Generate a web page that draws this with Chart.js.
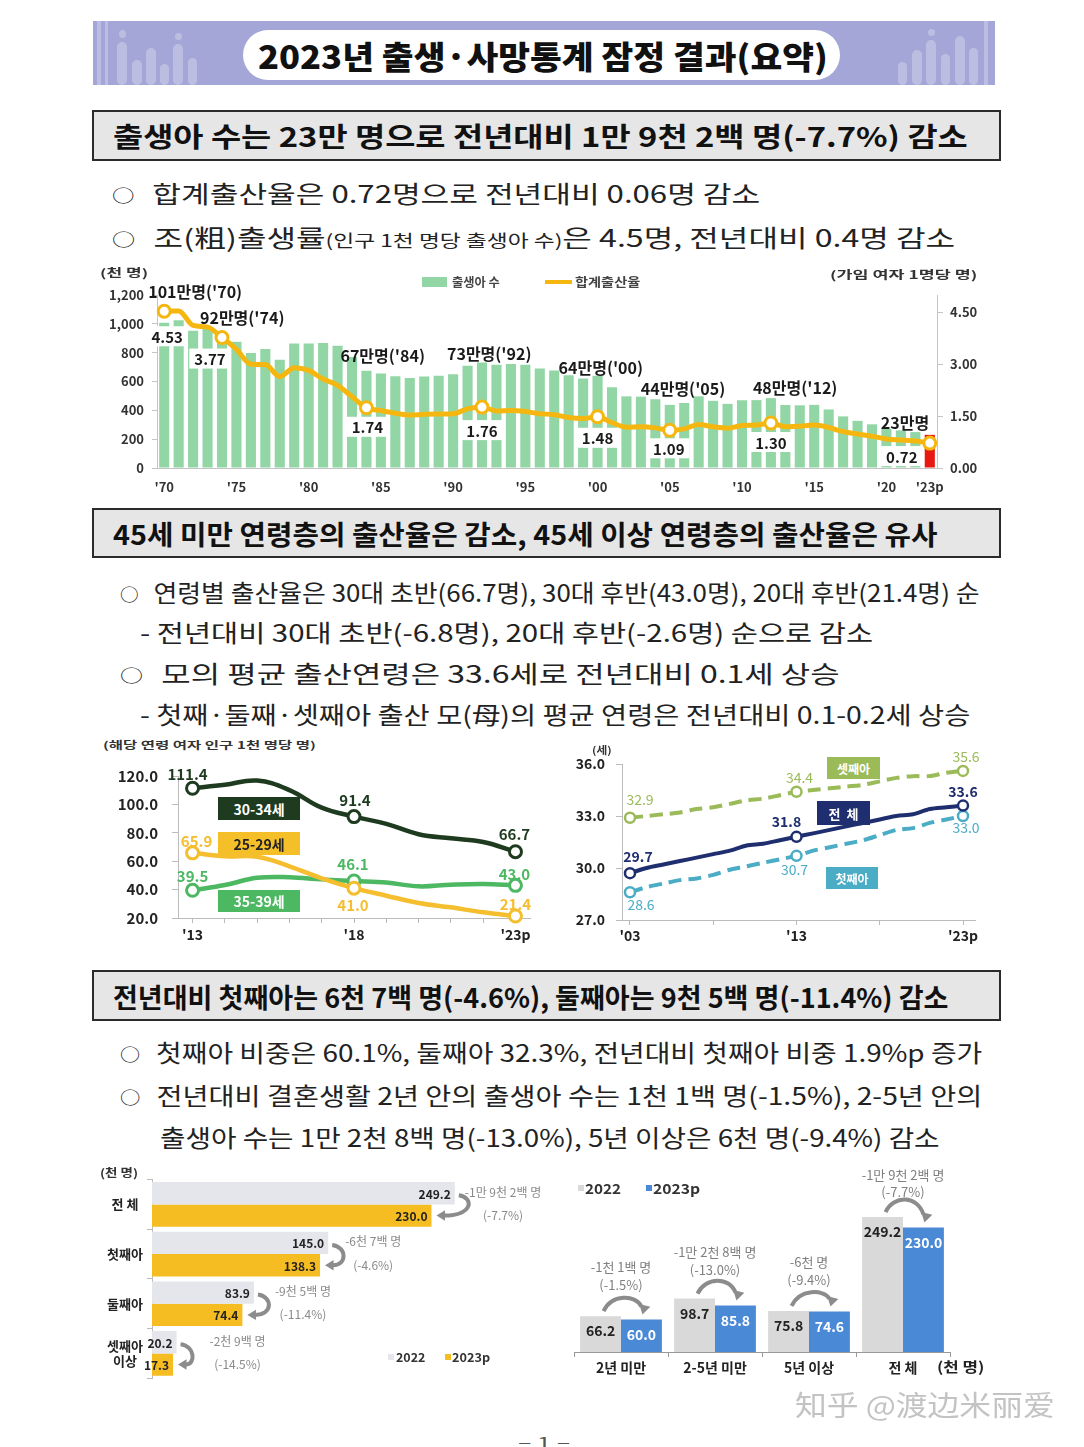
<!DOCTYPE html>
<html><head><meta charset="utf-8">
<script src="https://cdn.jsdelivr.net/npm/chart.js@4.4.1/dist/chart.umd.min.js"></script>
<style>
html,body{margin:0;padding:0;background:#fff;}
body{width:1084px;height:1447px;position:relative;overflow:hidden;font-family:'Noto Sans CJK KR','Noto Sans',sans-serif;color:#222;}
.t{position:absolute;white-space:nowrap;transform-origin:0 50%;line-height:1;}
.b{font-size:0.72em;position:relative;top:-0.08em;margin-right:0.8em;}
.box{position:absolute;border:2px solid #2b2b2b;background:#e6e6e6;box-sizing:border-box;}
.cw{position:absolute;}
.tag{position:absolute;display:flex;align-items:center;justify-content:center;font-weight:700;font-size:13px;white-space:nowrap;}
.dec{position:absolute;background:rgba(255,255,255,0.28);border-radius:5px;}
.sq{position:absolute;width:6px;height:6px;}
</style></head>
<body>
<!-- banner -->
<div style="position:absolute;left:93px;top:21px;width:902px;height:64px;background:#a3a6d6;"></div>
<div class="dec" style="left:97px;top:21px;width:4px;height:64px;border-radius:0"></div>
<div class="dec" style="left:105px;top:21px;width:3px;height:64px;border-radius:0"></div>
<div class="dec" style="left:117px;top:42px;width:10px;height:43px"></div>
<div class="dec" style="left:119px;top:30px;width:7px;height:8px;border-radius:50%"></div>
<div class="dec" style="left:132px;top:60px;width:10px;height:25px"></div>
<div class="dec" style="left:146px;top:48px;width:10px;height:37px"></div>
<div class="dec" style="left:160px;top:64px;width:9px;height:21px"></div>
<div class="dec" style="left:173px;top:44px;width:10px;height:41px"></div>
<div class="dec" style="left:175px;top:33px;width:7px;height:7px;border-radius:50%"></div>
<div class="dec" style="left:188px;top:58px;width:9px;height:27px"></div>
<div class="dec" style="left:898px;top:62px;width:9px;height:23px"></div>
<div class="dec" style="left:912px;top:50px;width:10px;height:35px"></div>
<div class="dec" style="left:926px;top:40px;width:10px;height:45px"></div>
<div class="dec" style="left:928px;top:29px;width:7px;height:7px;border-radius:50%"></div>
<div class="dec" style="left:941px;top:54px;width:9px;height:31px"></div>
<div class="dec" style="left:955px;top:36px;width:10px;height:49px"></div>
<div class="dec" style="left:969px;top:48px;width:9px;height:37px"></div>
<div class="dec" style="left:984px;top:21px;width:4px;height:64px;border-radius:0"></div>
<div style="position:absolute;left:243px;top:30px;width:597px;height:50px;border-radius:25px;background:#fff;"></div>

<div class="box" style="left:92px;top:110px;width:909px;height:51px;"></div>
<div class="box" style="left:92px;top:508px;width:909px;height:50px;"></div>
<div class="box" style="left:92px;top:970px;width:909px;height:51px;"></div>

<!-- chart 1 -->
<div class="cw" style="left:95px;top:262px;width:900px;height:236px;"><canvas id="c1"></canvas></div>
<div style="position:absolute;left:422px;top:277px;width:25px;height:10px;background:#93d6a6;"></div>
<div style="position:absolute;left:545px;top:280px;width:27px;height:4px;background:#f5b70f;"></div>

<!-- chart 2 -->
<div class="cw" style="left:95px;top:752px;width:450px;height:193px;"><canvas id="c2"></canvas></div>
<div class="cw" style="left:570px;top:740px;width:420px;height:205px;"><canvas id="c3"></canvas></div>
<div class="tag" style="left:218px;top:797px;width:82px;height:23px;background:#1e3b1f;color:#fff;font-size:14px;">30-34세</div>
<div class="tag" style="left:218px;top:832px;width:82px;height:23px;background:#f5bf2a;color:#222;font-size:14px;">25-29세</div>
<div class="tag" style="left:218px;top:890px;width:82px;height:22px;background:#4cb862;color:#fff;font-size:14px;">35-39세</div>
<div class="tag" style="left:827px;top:757px;width:53px;height:22px;background:#9bbb59;color:#fff;font-size:12px;">셋째아</div>
<div class="tag" style="left:817px;top:801px;width:53px;height:24px;background:#1f2e6e;color:#fff;font-size:13px;">전&nbsp;&nbsp;체</div>
<div class="tag" style="left:826px;top:867px;width:52px;height:22px;background:#4bacc6;color:#fff;font-size:12px;">첫째아</div>

<!-- chart 4 -->
<div class="cw" style="left:95px;top:1160px;width:475px;height:230px;"><canvas id="c4"></canvas></div>
<div class="cw" style="left:570px;top:1160px;width:420px;height:225px;"><canvas id="c5"></canvas></div>
<div class="sq" style="left:388px;top:1354px;background:#e4e6eb;"></div>
<div class="sq" style="left:445px;top:1354px;background:#f6bd22;"></div>
<div class="sq" style="left:578px;top:1185px;background:#d9d9d9;"></div>
<div class="sq" style="left:646px;top:1185px;background:#4a89d5;"></div>

<script>
// ---------------- data ----------------
const years = [1970,1971,1972,1973,1974,1975,1976,1977,1978,1979,1980,1981,1982,1983,1984,1985,1986,1987,1988,1989,1990,1991,1992,1993,1994,1995,1996,1997,1998,1999,2000,2001,2002,2003,2004,2005,2006,2007,2008,2009,2010,2011,2012,2013,2014,2015,2016,2017,2018,2019,2020,2021,2022,2023];
const births = [1007,1025,952,967,923,875,797,826,751,863,863,867,848,770,675,656,637,624,634,640,650,710,731,716,722,716,691,676,643,621,640,560,497,495,477,438,451,497,466,445,470,471,485,437,435,438,406,358,327,303,272,261,249,230];
const tfr = [4.53,4.54,4.12,4.07,3.77,3.43,3.00,2.99,2.64,2.90,2.82,2.57,2.39,2.06,1.74,1.66,1.58,1.53,1.55,1.56,1.57,1.71,1.76,1.65,1.66,1.63,1.57,1.54,1.46,1.43,1.48,1.31,1.18,1.19,1.16,1.09,1.13,1.26,1.19,1.15,1.23,1.24,1.30,1.19,1.21,1.24,1.17,1.05,0.98,0.92,0.84,0.81,0.78,0.72];
const birthCallouts = [{year:1970,text:"101만명('70)"},{year:1974,text:"92만명('74)"},{year:1984,text:"67만명('84)"},{year:1992,text:"73만명('92)"},{year:2000,text:"64만명('00)"},{year:2005,text:"44만명('05)"},{year:2012,text:"48만명('12)"},{year:2023,text:"23만명"}];
const tfrMarkYears = [1970,1974,1984,1992,2000,2005,2012,2023];
const leftTicks1 = [0,200,400,600,800,1000,1200];
const rightTicks1 = [0,1.5,3,4.5];

const ageYears = [2013,2014,2015,2016,2017,2018,2019,2020,2021,2022,2023];
const asfr3034 = [111.4,113.8,116.8,110.1,97.7,91.4,86.3,79.0,76.1,73.5,66.7];
const asfr2529 = [65.9,63.4,63.1,56.4,47.9,41.0,35.7,30.6,27.5,24.0,21.4];
const asfr3539 = [39.5,43.2,48.3,48.7,47.2,46.1,45.0,42.3,43.5,44.0,43.0];
const ageMarkYears = [2013,2018,2023];

const meanYears = [2003,2004,2005,2006,2007,2008,2009,2010,2011,2012,2013,2014,2015,2016,2017,2018,2019,2020,2021,2022,2023];
const meanAll = [29.7,30.0,30.2,30.4,30.6,30.8,31.0,31.3,31.4,31.6,31.8,32.0,32.2,32.4,32.6,32.8,33.0,33.1,33.4,33.5,33.6];
const meanFirst = [28.6,28.9,29.1,29.3,29.4,29.6,29.9,30.1,30.3,30.5,30.7,31.0,31.2,31.4,31.6,31.9,32.2,32.3,32.6,32.8,33.0];
const meanThird = [32.9,33.0,33.1,33.2,33.4,33.5,33.7,33.9,34.0,34.2,34.4,34.5,34.6,34.7,34.8,35.0,35.2,35.3,35.3,35.5,35.6];
const meanMarkYears = [2003,2013,2023];

const orderCats = ['전 체','첫째아','둘째아',['셋째아','이상']];
const order2022 = [249.2,145.0,83.9,20.2];
const order2023 = [230.0,138.3,74.4,17.3];
const orderChange = [['-1만 9천 2백 명','(-7.7%)'],['-6천 7백 명','(-4.6%)'],['-9천 5백 명','(-11.4%)'],['-2천 9백 명','(-14.5%)']];

const marCats = ['2년 미만','2-5년 미만','5년 이상','전 체'];
const mar2022 = [66.2,98.7,75.8,249.2];
const mar2023 = [60.0,85.8,74.6,230.0];
const marChange = [['-1천 1백 명','(-1.5%)'],['-1만 2천 8백 명','(-13.0%)'],['-6천 명','(-9.4%)'],['-1만 9천 2백 명','(-7.7%)']];

// ---------------- style (offsets in px) ----------------
const calloutOffsets = [[-16,-31],[-22,-17],[-26,-15],[-35,-9],[-39,-8],[-29,-16],[-18,-10],[-49,-12]];
const tfrLabelOffsets = [[3,25],[-12,21],[1,19],[0,23],[0,21],[-1,18],[0,19],[-28,13]];
const orderTextDx = [10,17,21,33];
const marTextDy = [[-49,-31],[-46,-28],[-49,-31],[-42,-25]];

// ---------------- texts ----------------
const F = "'Noto Sans CJK KR','Noto Sans',sans-serif";
const B = '<span class="b">○</span>';
const texts = [
 {h:'2023년 출생·사망통계 잠정 결과(요약)', x:258, cy:55, w:570, s:32, wt:900, c:'#111'},
 {h:'출생아 수는 23만 명으로 전년대비 1만 9천 2백 명(-7.7%) 감소', x:113, cy:135, w:855, s:27, wt:700, c:'#111'},
 {h:B+'합계출산율은 0.72명으로 전년대비 0.06명 감소', x:112, cy:193, w:648, s:24, wt:400},
 {h:B+'조(粗)출생률<span style="font-size:17px">(인구 1천 명당 출생아 수)</span>은 4.5명, 전년대비 0.4명 감소', x:112, cy:237, w:843, s:24, wt:400},
 {h:'(천 명)', x:100, cy:272, w:48, s:11, wt:700, c:'#333'},
 {h:'(가임 여자 1명당 명)', x:830, cy:274, w:147, s:11, wt:700, c:'#333'},
 {h:'출생아 수', x:452, cy:282, w:48, s:12, wt:700, c:'#444'},
 {h:'합계출산율', x:575, cy:282, w:65, s:12, wt:700, c:'#444'},
 {h:'45세 미만 연령층의 출산율은 감소, 45세 이상 연령층의 출산율은 유사', x:113, cy:533, w:825, s:27, wt:700, c:'#111'},
 {h:B+'연령별 출산율은 30대 초반(66.7명), 30대 후반(43.0명), 20대 후반(21.4명) 순', x:120, cy:592, w:860, s:24, wt:400},
 {h:'- 전년대비 30대 초반(-6.8명), 20대 후반(-2.6명) 순으로 감소', x:140, cy:632, w:733, s:24, wt:400},
 {h:B+'모의 평균 출산연령은 33.6세로 전년대비 0.1세 상승', x:120, cy:673, w:720, s:24, wt:400},
 {h:'- 첫째·둘째·셋째아 출산 모(母)의 평균 연령은 전년대비 0.1-0.2세 상승', x:140, cy:714, w:830, s:24, wt:400},
 {h:'(해당 연령 여자 인구 1천 명당 명)', x:103, cy:745, w:212, s:10, wt:700, c:'#333'},
 {h:'(세)', x:592, cy:750, w:20, s:10, wt:700, c:'#333'},
 {h:'전년대비 첫째아는 6천 7백 명(-4.6%), 둘째아는 9천 5백 명(-11.4%) 감소', x:113, cy:996, w:835, s:27, wt:700, c:'#111'},
 {h:B+'첫째아 비중은 60.1%, 둘째아 32.3%, 전년대비 첫째아 비중 1.9%p 증가', x:120, cy:1052, w:862, s:24, wt:400},
 {h:B+'전년대비 결혼생활 2년 안의 출생아 수는 1천 1백 명(-1.5%), 2-5년 안의', x:120, cy:1095, w:862, s:24, wt:400},
 {h:'출생아 수는 1만 2천 8백 명(-13.0%), 5년 이상은 6천 명(-9.4%) 감소', x:160, cy:1137, w:780, s:24, wt:400},
 {h:'(천 명)', x:100, cy:1172, w:38, s:11, wt:700, c:'#333'},
 {h:'2022', x:396, cy:1357, w:29, s:12, wt:700, c:'#333'},
 {h:'2023p', x:452, cy:1357, w:38, s:12, wt:700, c:'#333'},
 {h:'2022', x:585, cy:1188, w:36, s:14, wt:700, c:'#333'},
 {h:'2023p', x:653, cy:1188, w:47, s:14, wt:700, c:'#333'},
 {h:'(천 명)', x:937, cy:1366, w:48, s:14, wt:700, c:'#222'},
 {h:'知乎 @渡边米丽爱', x:795, cy:1404, w:260, s:28, wt:400, c:'#c3c3c3', ff:"'Noto Sans CJK SC',sans-serif", sh:true},
 {h:'– 1 –', x:518, cy:1441, w:52, s:15, wt:400, c:'#555'}
];
texts.forEach(t=>{
  const d=document.createElement('div'); d.className='t'; d.innerHTML=t.h;
  d.style.left=t.x+'px'; d.style.top=(t.cy-t.s/2)+'px'; d.style.fontSize=t.s+'px';
  d.style.fontWeight=t.wt; d.style.color=t.c||'#222';
  if(t.ff) d.style.fontFamily=t.ff;
  if(t.sh) d.style.textShadow='0 0 2px #fff,1px 1px 0 #fff,-1px -1px 0 #fff';
  document.body.appendChild(d);
  const sc=t.w/d.offsetWidth; d.style.transform='scaleX('+sc+')';
});

// ---------------- charts ----------------
Chart.defaults.font.family = F;
Chart.defaults.color = '#222';
Chart.defaults.animation = false;
const base = {responsive:true, maintainAspectRatio:false, animation:false, events:[], plugins:{legend:{display:false}, tooltip:{enabled:false}}};

// Chart 1
const c1Plugin = {id:'c1p', afterDatasetsDraw(ch){
  const ctx=ch.ctx, x=ch.scales.x, y=ch.scales.y, y1=ch.scales.y1;
  ctx.save(); ctx.textBaseline='middle';
  ctx.font='bold 16px '+F; ctx.fillStyle='#1a1a1a'; ctx.textAlign='left';
  birthCallouts.forEach((c,i)=>{const idx=years.indexOf(c.year); const o=calloutOffsets[i];
    ctx.fillText(c.text, x.getPixelForValue(idx)+o[0], y.getPixelForValue(births[idx])+o[1]);});
  ctx.font='bold 15px '+F; ctx.textAlign='center';
  tfrMarkYears.forEach((yr,i)=>{const idx=years.indexOf(yr); const o=tfrLabelOffsets[i];
    const t=tfr[idx].toFixed(2); const w=ctx.measureText(t).width;
    const cx=x.getPixelForValue(idx)+o[0], cy=y1.getPixelForValue(tfr[idx])+o[1];
    ctx.fillStyle='#fff'; ctx.fillRect(cx-w/2-5, cy-10, w+10, 20);
    ctx.fillStyle='#1a1a1a'; ctx.fillText(t,cx,cy+1);});
  ctx.restore();
}};
new Chart(document.getElementById('c1'), {
  data:{labels:years.map(String), datasets:[
    {type:'line', label:'합계출산율', data:tfr, yAxisID:'y1', borderColor:'#f5b70f', borderWidth:5, cubicInterpolationMode:'monotone',
     pointRadius:years.map(v=>tfrMarkYears.includes(v)?6:0), pointBackgroundColor:'#fff', pointBorderColor:'#f5b70f', pointBorderWidth:3, order:0, clip:false},
    {type:'bar', label:'출생아 수', data:births, yAxisID:'y', backgroundColor:years.map(v=>v===2023?'#e8170f':'#93d6a6'), barPercentage:0.7, categoryPercentage:1, order:1}
  ]},
  options:{...base, layout:{padding:{top:33,left:0,right:0,bottom:0}},
    scales:{
      x:{grid:{display:false, drawTicks:false}, border:{display:true,color:'#c4c4c4'},
         ticks:{autoSkip:false, maxRotation:0, padding:11, font:{size:13,weight:'bold'}, color:'#333',
           callback:(v,i)=>{const yr=years[i]; if(yr===2023) return "'23p"; if(yr%5===0 && yr<=2020) return "'"+String(yr).slice(2); return '';}},
         afterFit:s=>{s.height=30;}},
      y:{position:'left', min:0, max:1200, afterBuildTicks:s=>{s.ticks=leftTicks1.map(v=>({value:v}));},
         ticks:{padding:8, font:{size:13,weight:'bold'}, color:'#333', callback:v=>v.toLocaleString('en-US')},
         grid:{display:true, drawOnChartArea:false, drawTicks:true, tickLength:5, color:'#c4c4c4'}, border:{color:'#c4c4c4'},
         afterFit:s=>{s.width=62;}},
      y1:{position:'right', min:0, max:5, afterBuildTicks:s=>{s.ticks=rightTicks1.map(v=>({value:v}));},
         ticks:{padding:7, font:{size:13,weight:'bold'}, color:'#333', callback:v=>Number(v).toFixed(2)},
         grid:{display:true, drawOnChartArea:false, drawTicks:true, tickLength:6, color:'#c4c4c4'}, border:{color:'#c4c4c4'},
         afterFit:s=>{s.width=58;}}
    }},
  plugins:[c1Plugin]
});

// Chart 2 left
const ageSeries = [
  {data:asfr3034, color:'#1e3b1f', offs:[[-5,-14],[1,-16],[-1,-17]]},
  {data:asfr2529, color:'#f5be2e', offs:[[4,-12],[-1,17],[0,-12]]},
  {data:asfr3539, color:'#4cb862', offs:[[0,-14],[-1,-17],[-1,-11]]}
];
const seriesLabelPlugin = (series, xs, marks, fontSize) => ({id:'slp', afterDatasetsDraw(ch){
  const ctx=ch.ctx, x=ch.scales.x, y=ch.scales.y; ctx.save(); ctx.textBaseline='middle'; ctx.textAlign='center';
  series.forEach(s=>{ ctx.fillStyle=s.color; ctx.font=(s.bold===false?'':'bold ')+fontSize+'px '+F;
    marks.forEach((yr,j)=>{const idx=xs.indexOf(yr); const o=s.offs[j];
      ctx.fillText(s.data[idx].toFixed(1), x.getPixelForValue(yr)+o[0], y.getPixelForValue(s.data[idx])+o[1]);});});
  ctx.restore();
}});
new Chart(document.getElementById('c2'), {
  type:'line',
  data:{datasets:ageSeries.map(s=>({data:s.data.map((v,i)=>({x:ageYears[i],y:v})), borderColor:s.color, borderWidth:4.5, tension:0.4,
     pointRadius:ageYears.map(v=>ageMarkYears.includes(v)?6:0), pointBackgroundColor:'#fff', pointBorderColor:s.color, pointBorderWidth:3, clip:false}))},
  options:{...base, layout:{padding:{top:24,right:15,left:0,bottom:0}},
    scales:{
      x:{type:'linear', min:2012.55, max:2023.45, afterBuildTicks:s=>{s.ticks=ageYears.map(v=>({value:v}));},
         grid:{display:true, drawOnChartArea:false, tickLength:5, color:'#bbb'}, border:{color:'#bbb'},
         ticks:{padding:3, font:{size:14,weight:'bold'}, color:'#222', maxRotation:0,
           callback:v=>v===2013?"'13":v===2018?"'18":v===2023?"'23p":''},
         afterFit:s=>{s.height=27;}},
      y:{min:20, max:120, ticks:{stepSize:20, padding:14, font:{size:15,weight:'bold'}, color:'#222', callback:v=>Number(v).toFixed(1)},
         grid:{display:true, drawOnChartArea:false, tickLength:6, color:'#bbb'}, border:{color:'#bbb'},
         afterFit:s=>{s.width=83;}}
    }},
  plugins:[seriesLabelPlugin(ageSeries, ageYears, ageMarkYears, 15)]
});

// Chart 2 right
const meanSeries = [
  {data:meanThird, color:'#9bbb59', dash:[13,7], offs:[[10,-18],[3,-14],[3,-14]], bold:false},
  {data:meanAll, color:'#1f2e6e', dash:[], offs:[[8,-17],[-10,-15],[0,-14]]},
  {data:meanFirst, color:'#4bacc6', dash:[13,7], offs:[[11,12],[-2,14],[3,12]], bold:false}
];
new Chart(document.getElementById('c3'), {
  type:'line',
  data:{datasets:meanSeries.map(s=>({data:s.data.map((v,i)=>({x:meanYears[i],y:v})), borderColor:s.color, borderWidth:4, borderDash:s.dash, tension:0.3,
     pointRadius:meanYears.map(v=>meanMarkYears.includes(v)?5:0), pointBackgroundColor:'#fff', pointBorderColor:s.color, pointBorderWidth:2.5, clip:false}))},
  options:{...base, layout:{padding:{top:24,right:15,left:0,bottom:0}},
    scales:{
      x:{type:'linear', min:2002.52, max:2023.72, afterBuildTicks:s=>{s.ticks=[2003,2008,2013,2018,2023].map(v=>({value:v}));},
         grid:{display:true, drawOnChartArea:false, tickLength:5, color:'#bbb'}, border:{color:'#bbb'},
         ticks:{padding:2, font:{size:14,weight:'bold'}, color:'#222', maxRotation:0,
           callback:v=>v===2003?"'03":v===2013?"'13":v===2023?"'23p":''},
         afterFit:s=>{s.height=25;}},
      y:{min:27, max:36, ticks:{stepSize:3, padding:11, font:{size:14,weight:'bold'}, color:'#222', callback:v=>Number(v).toFixed(1)},
         grid:{display:true, drawOnChartArea:false, tickLength:6, color:'#bbb'}, border:{color:'#bbb'},
         afterFit:s=>{s.width=52;}}
    }},
  plugins:[seriesLabelPlugin(meanSeries, meanYears, meanMarkYears, 14)]
});

// arrowhead helper
function head(ctx, x, y, ang, size){
  ctx.beginPath(); ctx.moveTo(x,y);
  ctx.lineTo(x-size*Math.cos(ang-0.55), y-size*Math.sin(ang-0.55));
  ctx.lineTo(x-size*Math.cos(ang+0.55), y-size*Math.sin(ang+0.55));
  ctx.closePath(); ctx.fill();
}

// Chart 4 left
const c4Plugin = {id:'c4p', afterDatasetsDraw(ch){
  const ctx=ch.ctx; const m0=ch.getDatasetMeta(0).data, m1=ch.getDatasetMeta(1).data;
  ctx.save(); ctx.textBaseline='middle';
  m0.forEach((b0,i)=>{const b1=m1[i];
    ctx.font='bold 12px '+F; ctx.fillStyle='#222'; ctx.textAlign='right';
    ctx.fillText(order2022[i].toFixed(1), b0.x-4, b0.y+1);
    ctx.fillText(order2023[i].toFixed(1), b1.x-4, b1.y+1);
    ctx.strokeStyle='#8c8c8c'; ctx.fillStyle='#8c8c8c'; ctx.lineWidth=4;
    const sx=b0.x+4, sy=b0.y+2, ex=b1.x+5, ey=b1.y;
    ctx.beginPath(); ctx.moveTo(sx,sy); ctx.bezierCurveTo(sx+15,sy+2, sx+15,ey, ex+8,ey); ctx.stroke();
    head(ctx, ex, ey, Math.PI, 10);
    ctx.font='12px '+F; ctx.fillStyle='#8a8a8a'; ctx.textAlign='left';
    const lx=b0.x+orderTextDx[i]; const w1=ctx.measureText(orderChange[i][0]).width;
    ctx.fillText(orderChange[i][0], lx, b0.y-1);
    ctx.textAlign='center'; ctx.fillText(orderChange[i][1], lx+w1/2, b1.y);
  });
  ctx.restore();
}};
new Chart(document.getElementById('c4'), {
  type:'bar',
  data:{labels:orderCats, datasets:[
    {label:'2022', data:order2022, backgroundColor:'#e4e6eb'},
    {label:'2023p', data:order2023, backgroundColor:'#f6bd22'}]},
  options:{...base, indexAxis:'y', layout:{padding:{top:12,right:0,left:0,bottom:8}},
    datasets:{bar:{categoryPercentage:0.9, barPercentage:1}},
    scales:{
      x:{display:false, min:0, max:344},
      y:{grid:{display:true, drawOnChartArea:false, tickLength:5, color:'#bbb', offset:true}, border:{color:'#bbb'},
         ticks:{crossAlign:'center', padding:4, font:{size:13,weight:'bold'}, color:'#222'},
         afterFit:s=>{s.width=57;}}
    }},
  plugins:[c4Plugin]
});

// Chart 4 right
const c5Plugin = {id:'c5p', afterDatasetsDraw(ch){
  const ctx=ch.ctx; const m0=ch.getDatasetMeta(0).data, m1=ch.getDatasetMeta(1).data;
  ctx.save(); ctx.textBaseline='middle'; ctx.textAlign='center';
  m0.forEach((b0,i)=>{const b1=m1[i];
    ctx.font='bold 14px '+F;
    ctx.fillStyle='#222'; ctx.fillText(mar2022[i].toFixed(1), b0.x, b0.y+15);
    ctx.fillStyle='#fff'; ctx.fillText(mar2023[i].toFixed(1), b1.x, b1.y+15);
    ctx.strokeStyle='#8c8c8c'; ctx.fillStyle='#8c8c8c'; ctx.lineWidth=4;
    const sx=b0.x+3, sy=b0.y-5, ex=b1.x, ey=b1.y-5;
    ctx.beginPath(); ctx.moveTo(sx,sy); ctx.bezierCurveTo(sx+8,sy-17, ex-6,sy-17, ex,ey-8); ctx.stroke();
    head(ctx, ex+1, ey, Math.PI/2+0.25, 11);
    ctx.font='13px '+F; ctx.fillStyle='#808080';
    const cx=(b0.x+b1.x)/2;
    ctx.fillText(marChange[i][0], cx, b0.y+marTextDy[i][0]);
    ctx.fillText(marChange[i][1], cx, b0.y+marTextDy[i][1]);
  });
  ctx.restore();
}};
new Chart(document.getElementById('c5'), {
  type:'bar',
  data:{labels:marCats, datasets:[
    {label:'2022', data:mar2022, backgroundColor:'#d9d9d9'},
    {label:'2023p', data:mar2023, backgroundColor:'#4a89d5'}]},
  options:{...base, layout:{padding:{top:18.7,right:40,left:4,bottom:0}},
    datasets:{bar:{categoryPercentage:0.87, barPercentage:1}},
    scales:{
      x:{grid:{display:true, drawOnChartArea:false, tickLength:5, color:'#999', offset:true}, border:{color:'#999'},
         ticks:{padding:2, font:{size:14,weight:'bold'}, color:'#222', maxRotation:0},
         afterFit:s=>{s.height=33;}},
      y:{display:false, min:0, max:320}
    }},
  plugins:[c5Plugin]
});
</script>
</body></html>
